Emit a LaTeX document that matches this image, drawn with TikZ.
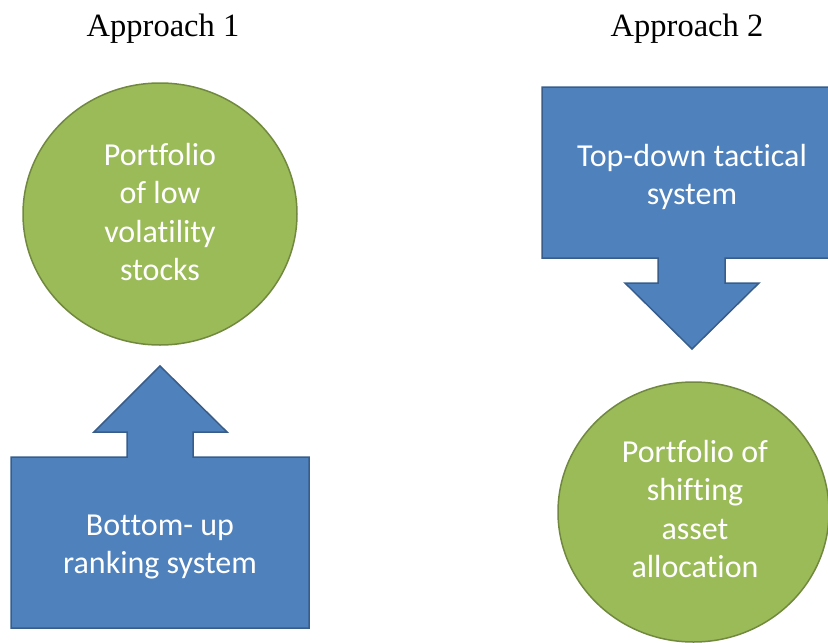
\documentclass[tikz,border=0pt]{standalone}
\usepackage{fontspec}
\setmainfont{Liberation Serif}
\newfontfamily\bodysans[Ligatures=NoCommon]{Carlito}
\usetikzlibrary{shapes.geometric}
\definecolor{boxblue}{HTML}{4F81BD}
\definecolor{boxblueedge}{HTML}{385D8A}
\definecolor{ballgreen}{HTML}{9BBB59}
\definecolor{ballgreenedge}{HTML}{71893F}
\begin{document}
\begin{tikzpicture}[x=1pt,y=-1pt,
  blueshape/.style={fill=boxblue, draw=boxblueedge, line width=1.5pt, line join=miter},
  greenball/.style={ellipse, fill=ballgreen, draw=ballgreenedge, line width=1.5pt, inner sep=0pt},
  inlabel/.style={text=white, align=center, inner sep=0pt, font=\bodysans\fontsize{32}{38.5}\selectfont},
  heading/.style={anchor=base, inner sep=0pt, font=\fontsize{32.5}{38}\selectfont}]
\useasboundingbox (0,0) rectangle (828,643);
\clip (0,0) rectangle (828,643);

% Column headings
\node[heading] (h1) at (163,36) {Approach 1};
\node[heading] (h2) at (687,36) {Approach 2};

% Approach 1: bottom-up callout pointing up at the portfolio
\node[greenball, minimum width=274pt, minimum height=262pt] (lowvol) at (160,214) {};
\draw[blueshape] (11,628) -- (11,457) -- (127,457) -- (127,432) -- (94,432)
  -- (160,366) -- (227,432) -- (193,432) -- (193,457) -- (309,457)
  -- (309,628) -- cycle;
\node[inlabel] (bottomuptext) at (160,547) {Bottom- up\\ranking system};
\node[inlabel] (lowvoltext) at (160,212) {Portfolio\\of low\\volatility\\stocks};

% Approach 2: top-down callout pointing down at the portfolio
\draw[blueshape] (542,87) -- (842,87) -- (842,258) -- (725,258) -- (725,283)
  -- (759,283) -- (692,349) -- (625,283) -- (658,283) -- (658,258)
  -- (542,258) -- cycle;
\node[greenball, minimum width=271pt, minimum height=260pt] (shifting) at (693.5,512) {};
\node[inlabel] (topdowntext) at (692,177) {Top-down tactical\\system};
\node[inlabel] (shiftingtext) at (695,509) {Portfolio of\\shifting\\asset\\allocation};
\end{tikzpicture}
\end{document}
